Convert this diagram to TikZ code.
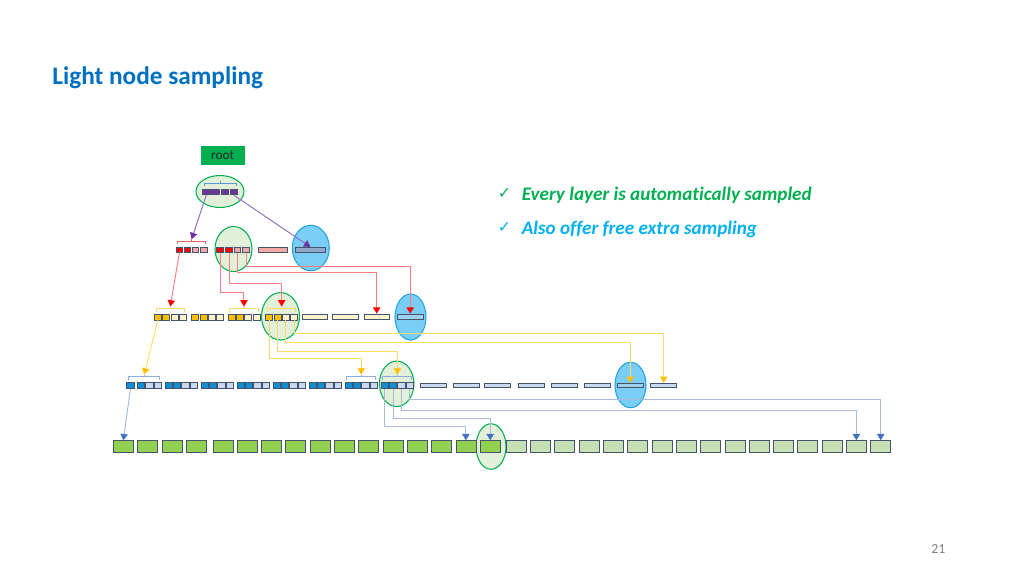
\documentclass[tikz,border=0pt]{standalone}
\usepackage{fontspec}
\setmainfont[Ligatures=NoCommon]{Carlito}
\newfontfamily\symfont{DejaVu Sans}
\usetikzlibrary{positioning,calc,shapes.geometric,arrows.meta}

\definecolor{titleblue}{HTML}{0070C0}
\definecolor{slate}{HTML}{44546A}
\definecolor{purp}{HTML}{7030A0}
\definecolor{purpl}{HTML}{8E70C4}
\definecolor{redc}{HTML}{FF0000}
\definecolor{redl}{HTML}{FF7C80}
\definecolor{pinkc}{HTML}{F4A7A7}
\definecolor{yelc}{HTML}{FFC000}
\definecolor{yell}{HTML}{FFD966}
\definecolor{yelpale}{HTML}{FFF2CC}
\definecolor{bluec}{HTML}{0E8FD6}
\definecolor{bluel}{HTML}{A9B8DC}
\definecolor{bluearr}{HTML}{4472C4}
\definecolor{bluepale}{HTML}{C9DAF0}
\definecolor{grn}{HTML}{92D050}
\definecolor{grnpale}{HTML}{C5E0B4}
\definecolor{ringgreen}{HTML}{00B050}
\definecolor{ringfill}{HTML}{E2F0D9}
\definecolor{skyc}{HTML}{00B0F0}
\definecolor{skyfill}{HTML}{7ACDF4}
\definecolor{skyring}{HTML}{1FA5E0}
\definecolor{steel}{HTML}{8EA9C8}
\definecolor{skybar}{HTML}{9DD2EE}
\definecolor{brk1}{HTML}{5B9BD5}
\definecolor{brk2}{HTML}{E06666}
\definecolor{brk4}{HTML}{8FAADC}

% bracket over cells #1..#2, its tip is named #3
\newcommand{\brk}[4]{%
  \draw[#4, line width=0.5pt] ([xshift=1.2pt,yshift=1.4pt]#1.north west)
    |- ([yshift=3.1pt]$(#1.north west)!0.5!(#2.north east)$) coordinate(#3m)
    -| ([xshift=-1.2pt,yshift=1.4pt]#2.north east);
  \draw[#4, line width=0.5pt] (#3m) -- ([yshift=1.3pt]#3m) coordinate(#3);}

\begin{document}
\begin{tikzpicture}[
		x=0.02cm, y=-0.02cm,
		every node/.style={inner sep=0pt},
		cell/.style={draw=slate, line width=0.45pt},
		c1/.style={cell, minimum width=0.154cm, minimum height=0.11cm},
		c2/.style={cell, minimum width=0.134cm, minimum height=0.10cm},
		c3/.style={cell, minimum width=0.14cm, minimum height=0.106cm},
		c4/.style={cell, minimum width=0.146cm, minimum height=0.112cm},
		gcell/.style={cell, minimum width=0.40cm, minimum height=0.232cm},
		ring/.style={ellipse, draw=ringgreen, line width=0.6pt, fill=ringfill},
		sky/.style={ellipse, draw=skyring, line width=0.6pt, fill=skyfill},
		tipstyle/.style={-{Triangle[width=4.2pt,length=3.6pt,color=#1]}},
		purpline/.style={line width=0.55pt, purpl, tipstyle=purp},
		redline/.style={line width=0.55pt, redl, tipstyle=redc},
		yelline/.style={line width=0.55pt, yell, tipstyle=yelc},
		blueline/.style={line width=0.55pt, bluel, tipstyle=bluearr},
		point/.style={anchor=base west, font=\bfseries\itshape\fontsize{10.9}{13}\selectfont},
		tick/.style={anchor=base west, font=\symfont\fontsize{9}{10}\selectfont}
	]
	\useasboundingbox (0,0) rectangle (1024,576);

	\node(title)[anchor=base west, text=titleblue, font=\bfseries\fontsize{14.4}{17}\selectfont] at (52,84) {Light node sampling};
	\node(root)[fill=ringgreen, minimum width=0.88cm, minimum height=0.37cm, text=black!85, font=\fontsize{7.6}{9}\selectfont] at (222.7,155.3) {root};

	\node(tick1)[tick, text=ringgreen] at (497.5,198.5) {✓};
	\node(pt1)[point, text=ringgreen] at (521.5,200) {Every layer is automatically sampled};
	\node(tick2)[tick, text=skyc] at (497.5,232.8) {✓};
	\node(pt2)[point, text=skyc] at (521.5,234.3) {Also offer free extra sampling};
	\node(page)[anchor=base west, text=black!50, font=\fontsize{7.9}{9}\selectfont] at (931,553) {21};

	% sampled nodes
	\node(E1)[ring, minimum width=0.96cm, minimum height=0.64cm] at (220,191.5) {};
	\node(E2)[ring, minimum width=0.74cm, minimum height=0.90cm] at (233.5,249) {};
	\node(S2)[sky, minimum width=0.74cm, minimum height=0.91cm] at (310.8,248) {};
	\node(E3)[ring, minimum width=0.76cm, minimum height=0.95cm] at (280.5,316.3) {};
	\node(S3)[sky, minimum width=0.62cm, minimum height=0.92cm] at (410.5,317) {};
	\node(E4)[ring, minimum width=0.69cm, minimum height=0.91cm] at (396.7,383.8) {};
	\node(S4)[sky, minimum width=0.62cm, minimum height=0.91cm] at (630.5,385) {};
	\node(E5)[ring, minimum width=0.60cm, minimum height=0.91cm] at (491,446.5) {};

	% layer 1
	\foreach \i/\x in {1/206.3,2/215.5,3/224.8,4/233.8}
		\node(L1a\i)[c1, fill=purp] at (\x,192) {};
	\brk{L1a1}{L1a4}{T1}{brk1}

	% layer 2
	\foreach \i/\x/\f in {1/179.4/redc,2/187.4/redc,3/195.5/pinkc,4/203.8/pinkc}
		\node(L2a\i)[c2, fill=\f] at (\x,249.8) {};
	\foreach \i/\x/\f in {1/220/redc,2/229/redc,3/237.3/pinkc,4/246/pinkc}
		\node(L2b\i)[c2, fill=\f] at (\x,249.8) {};
	\node(L2r)[cell, fill=pinkc, minimum width=0.572cm, minimum height=0.10cm] at (273,249.8) {};
	\node(L2x)[cell, fill=steel, minimum width=0.614cm, minimum height=0.10cm] at (310.3,249.8) {};
	\brk{L2a1}{L2a4}{T2a}{brk2}

	% layer 3
	\foreach \g/\s in {a/154.3,b/191.7,c/228,d/265.7}
		\foreach \i/\f in {1/yelc,2/yelc,3/yelpale,4/yelpale}
			\node(L3\g\i)[c3, fill=\f] at (\s+3.5+8.3*\i-8.3,317.3) {};
	\foreach \n/\x/\f in {r1/314.8/yelpale,r2/345.5/yelpale,r3/376.7/yelpale,x/410.2/skybar}
		\node(L3\n)[cell, fill=\f, minimum width=0.51cm, minimum height=0.106cm] at (\x,316.7) {};
	\brk{L3a1}{L3a4}{T3a}{yell}
	\brk{L3c1}{L3c4}{T3c}{yell}
	\brk{L3d1}{L3d4}{T3d}{yell}

	% layer 4
	\node(L4s)[c4, fill=bluec] at (130.5,385.5) {};
	\foreach \i/\x/\f in {1/141/bluec,2/149.4/bluepale,3/157.8/bluepale}
		\node(L4a\i)[c4, fill=\f] at (\x,385.5) {};
	\foreach \g/\s in {b/165,c/201,d/237,e/273,f/309,g/345,h/381}
		\foreach \i/\f in {1/bluec,2/bluec,3/bluepale,4/bluepale}
			\node(L4\g\i)[c4, fill=\f] at (\s+3.65+8.4*\i-8.4,385.5) {};
	\foreach \n/\x/\f in {r1/433/bluepale,r2/466.3/bluepale,r3/497.8/bluepale,r4/531.2/bluepale,r5/564.5/bluepale,r6/597.8/bluepale,x/630.3/skybar,r7/663.7/bluepale}
		\node(L4\n)[cell, fill=\f, minimum width=0.52cm, minimum height=0.09cm] at (\x,385.5) {};
	\brk{L4s}{L4a3}{T4a}{brk4}
	\brk{L4g1}{L4g4}{T4g}{brk4}
	\brk{L4h1}{L4h4}{T4h}{brk4}

	% layer 5
	\foreach \i in {1,...,32}{
		\pgfmathsetmacro\gx{123.3+24.3*(\i-1)+2.4*(\i>4)+1.7*(\i>16)}
		\ifnum\i<17 \def\gf{grn}\else\def\gf{grnpale}\fi
		\node(G\i)[gcell, fill=\gf] at (\gx,446.5) {};
	}

	% links
	\draw[purpline] (L1a1.south) -- (T2a);
	\draw[purpline] (L1a4.south) -- (L2x.north);

	\draw[redline] (L2a1.south) -- (T3a);
	\draw[redline] (L2b1.south) -- ++(0,39.4) -| (T3c);
	\draw[redline] (L2b2.south) -- ++(0,31) -| (T3d);
	\draw[redline] (L2b3.south) -- ++(0,19.7) -| (L3r3.north);
	\draw[redline] (L2b4.south) -- ++(0,13.7) -| (L3x.north);

	\draw[yelline] (L3a1.south) -- (T4a);
	\draw[yelline] (L3d1.south) -- ++(0,38) -| (T4g);
	\draw[yelline] (L3d2.south) -- ++(0,30.7) -| (T4h);
	\draw[yelline] (L3d3.south) -- ++(0,21.7) -| (L4x.north);
	\draw[yelline] (L3d4.south) -- ++(0,13.3) -| (L4r7.north);

	\draw[blueline] (L4s.south) -- (G1.north);
	\draw[blueline] (L4h1.south) -- ++(0,37.4) -| (G15.north);
	\draw[blueline] (L4h2.south) -- ++(0,29.4) -| (G16.north);
	\draw[blueline] (L4h3.south) -- ++(0,21.7) -| (G31.north);
	\draw[blueline] (L4h4.south) -- ++(0,11) -| (G32.north);
\end{tikzpicture}
\end{document}
